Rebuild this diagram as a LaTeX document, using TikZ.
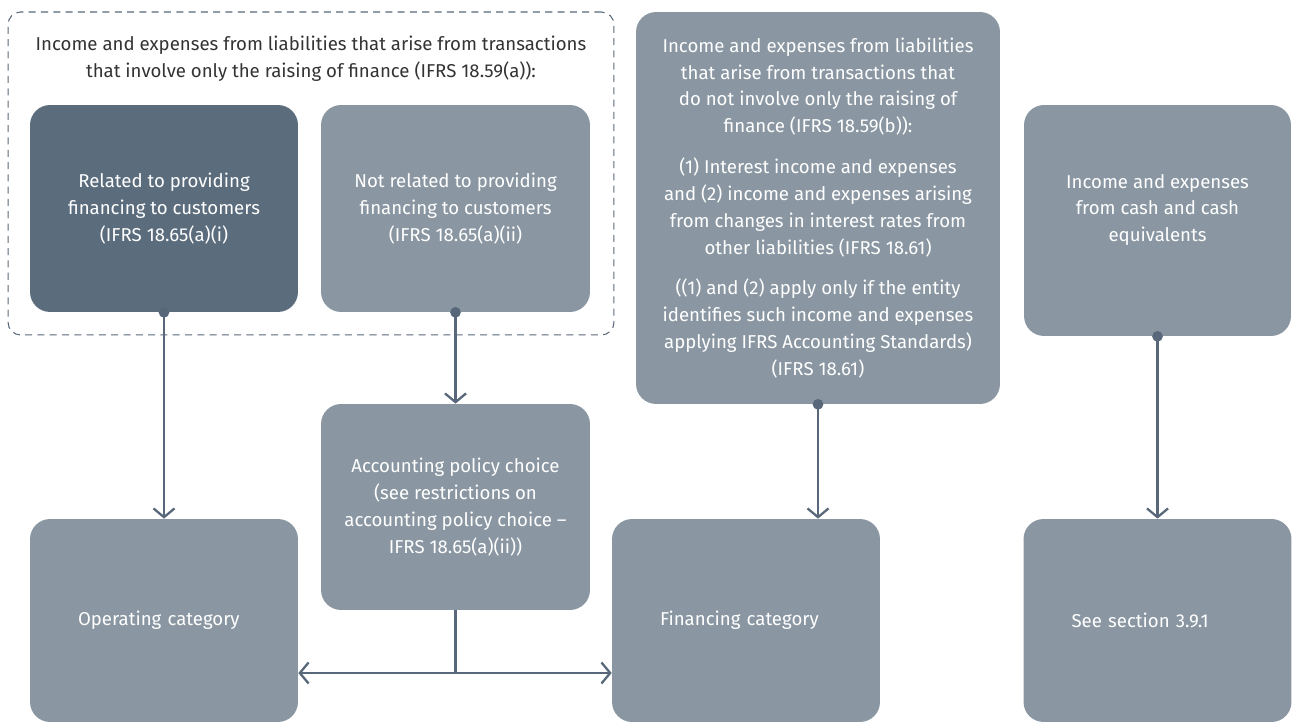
\documentclass[tikz,border=0pt]{standalone}
\usepackage{fontspec}
\setmainfont{Fira Sans}
\usetikzlibrary{arrows.meta}
\definecolor{slatedark}{RGB}{91,108,125}
\definecolor{slategrey}{RGB}{138,151,162}
\definecolor{slateline}{RGB}{88,104,122}
\definecolor{inktext}{RGB}{51,51,51}

\begin{document}
\begin{tikzpicture}[x = 0.02cm, y = -0.02cm,
    boxtext/.style = {text = white, align = center, inner sep = 0pt, font = \fontsize{10.6}{15.3}\selectfont},
    box/.style = {boxtext, fill = slategrey, rounded corners = 0.4cm},
    darkbox/.style = {box, fill = slatedark},
    catbox/.style = {box, align = left, text width = 3.44cm, inner xsep = 0.96cm, minimum height = 4.06cm},
    flow/.style = {draw = slateline, line width = 1.3pt, {Circle[length = 6pt]}-{Straight Barb[length = 5pt, width = 12pt]}, shorten <= -3pt},
    split/.style = {draw = slateline, line width = 1.3pt, {Straight Barb[length = 5pt, width = 12pt]}-{Straight Barb[length = 5pt, width = 12pt]}}]
    \useasboundingbox (0,0) rectangle (1293,722);

    % group of IFRS 18.59(a)
    \node[draw = slateline, dashed, dash pattern = on 4pt off 3pt, line width = 0.6pt, rounded corners = 0.25cm, minimum width = 12.12cm, minimum height = 6.46cm](raising) at (311,173.5) {};
    \node[align = center, text = inktext, font = \fontsize{10.6}{15.3}\selectfont](raisingTitle) at (311,59) {Income and expenses from liabilities that arise from transactions\\that involve only the raising of finance (IFRS 18.59(a)):};

    \node[darkbox, minimum width = 5.36cm, minimum height = 4.14cm](related) at (164,208.5) {Related to providing\\financing to customers\\(IFRS 18.65(a)(i)};
    \node[box, minimum width = 5.38cm, minimum height = 4.14cm](notRelated) at (455.5,208.5) {Not related to providing\\financing to customers\\(IFRS 18.65(a)(ii)};
    \node[box, minimum width = 7.28cm, minimum height = 7.84cm](otherLiab) at (818,208) {Income and expenses from liabilities\\that arise from transactions that\\do not involve only the raising of\\finance (IFRS 18.59(b)):\\[7.9pt]
        (1) Interest income and expenses\\and (2) income and expenses arising\\from changes in interest rates from\\other liabilities (IFRS 18.61)\\[7.9pt]
        ((1) and (2) apply only if the entity\\identifies such income and expenses\\applying IFRS Accounting Standards)\\(IFRS 18.61)};
    \node[box, minimum width = 5.34cm, minimum height = 4.62cm, label = {[boxtext, yshift = 0.21cm]center:Income and expenses\\from cash and cash\\equivalents}](cash) at (1157.5,220.5) {};
    \node[box, minimum width = 5.38cm, minimum height = 4.12cm](policy) at (455.5,507) {Accounting policy choice\\(see restrictions on\\accounting policy choice --\\IFRS 18.65(a)(ii))};

    \node[catbox](operating) at (164,620.5) {Operating category};
    \node[catbox](financing) at (746,620.5) {Financing category};
    \node[catbox](section) at (1157.5,620.5) {See section 3.9.1};

    \draw[flow] (related.south) -- (operating.north);
    \draw[flow] (notRelated.south) -- (policy.north);
    \draw[flow] (otherLiab.south) -- (otherLiab.south |- financing.north);
    \draw[flow] (cash.south) -- (section.north);

    \coordinate (fork) at (455.5,673);
    \draw[draw = slateline, line width = 1.3pt] (policy.south) -- (fork);
    \draw[split] (operating.east |- fork) -- (financing.west |- fork);
\end{tikzpicture}
\end{document}
